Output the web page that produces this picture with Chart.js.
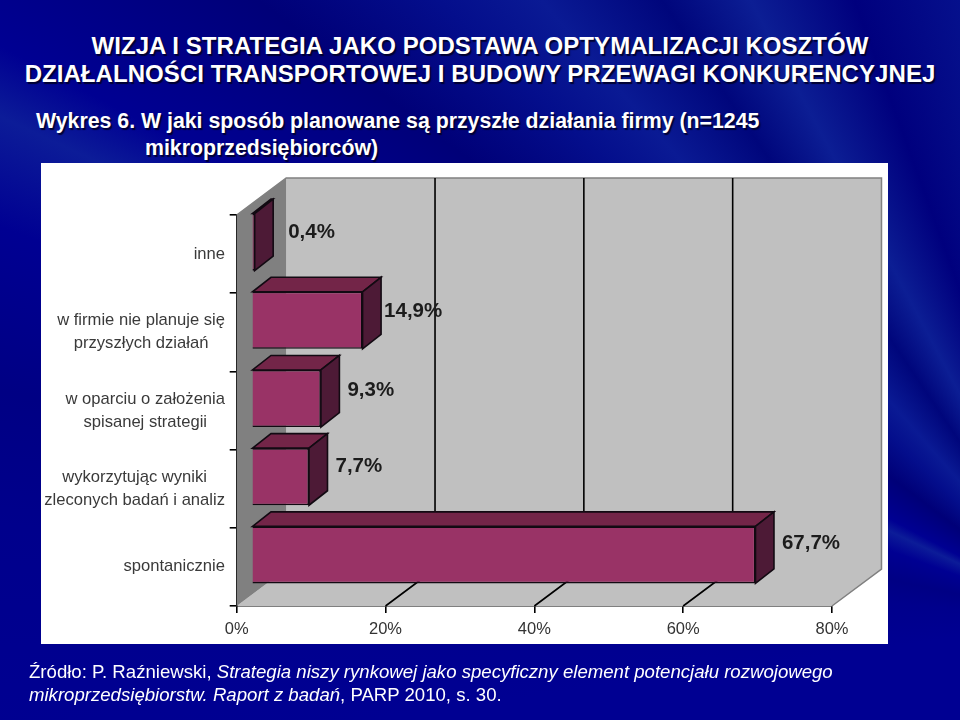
<!DOCTYPE html>
<html lang="pl">
<head>
  <meta charset="UTF-8" />
  <title>Wykres 6</title>
  <script src="https://cdn.jsdelivr.net/npm/chart.js"></script>
  <style>
    html, body { margin: 0; padding: 0; }
    body {
      width: 960px; height: 720px; position: relative; overflow: hidden;
      font-family: "Liberation Sans", Arial, sans-serif; color: #fff;
      background:
        conic-gradient(from 0deg at 1080px 620px,
          #000092 0deg, #000092 262deg, #00008c 275deg, #000084 282deg, #000092 290deg,
          #0c1c98 295deg, #000092 298deg, #000078 307deg, #040e8c 314deg, #0a1a94 319deg,
          #00067c 326deg, #0c1e94 332deg, #00007e 340deg, #06128e 350deg, #000092 360deg);
    }
    .t { position: absolute; white-space: nowrap; text-shadow: 1.5px 1.5px 1px rgba(0,0,40,.9); }
    .tytul { left: 0; width: 960px; text-align: center; font-size: 24px; line-height: 28px; font-weight: bold; top: 32px; letter-spacing: 0.06px; }
    .wykres { left: 36px; top: 108px; font-size: 21.3px; font-weight: bold; line-height: 27px; }
    .wykres span { display: block; margin-left: 109px; }
    .panel { position: absolute; left: 41px; top: 163px; width: 847px; height: 481px; background: #fff; }
    canvas { position: absolute; left: 0; top: 0; filter: blur(0.4px); }
    .zrodlo { left: 29px; top: 660px; font-size: 18.6px; line-height: 23px; text-shadow: none; }
    .zrodlo i { font-style: italic; }
  </style>
</head>
<body>
  <div class="t tytul">WIZJA I STRATEGIA JAKO PODSTAWA OPTYMALIZACJI KOSZTÓW<br>DZIAŁALNOŚCI TRANSPORTOWEJ I BUDOWY PRZEWAGI KONKURENCYJNEJ</div>
  <div class="t wykres">Wykres 6. W jaki sposób planowane są przyszłe działania firmy (n=1245<span>mikroprzedsiębiorców)</span></div>
  <div class="panel"></div>
  <canvas id="grafico" width="960" height="720"></canvas>
  <div class="t zrodlo">Źródło: P. Raźniewski, <i>Strategia niszy rynkowej jako specyficzny element potencjału rozwojowego<br>mikroprzedsiębiorstw. Raport z badań</i>, PARP 2010, s. 30.</div>

  <script>
    const kategorie = [
      ['inne'],
      ['w firmie nie planuje się', 'przyszłych działań'],
      ['w oparciu o założenia', 'spisanej strategii'],
      ['wykorzytując wyniki', 'zleconych badań i analiz'],
      ['spontanicznie']
    ];
    const wartosci = [0.4, 14.9, 9.3, 7.7, 67.7];
    const etykiety = ['0,4%', '14,9%', '9,3%', '7,7%', '67,7%'];

    // przesuniecia perspektywy
    const glebX = 49.5, glebY = -37;
    const slupekX = 15, slupekY = -12;
    const bokX = 18.5, bokY = -14.5;
    // male poprawki polozenia etykiet wartosci
    const korektaX = [15, 3, 8, 8, 8];
    const korektaY = [5, 6, 6, 4, 3];

    function wielokat(ctx, pkt, fill, stroke, lw) {
      ctx.beginPath();
      pkt.forEach((p, i) => i ? ctx.lineTo(p[0], p[1]) : ctx.moveTo(p[0], p[1]));
      ctx.closePath();
      if (fill) { ctx.fillStyle = fill; ctx.fill(); }
      if (stroke) { ctx.strokeStyle = stroke; ctx.lineWidth = lw || 1; ctx.stroke(); }
    }

    const sciany = {
      id: 'sciany',
      beforeDatasetsDraw(chart) {
        const { ctx, chartArea: a, scales: { x } } = chart;
        // podloga, tylna sciana, lewa sciana
        wielokat(ctx, [[a.left, a.bottom], [a.right, a.bottom], [a.right + glebX, a.bottom + glebY], [a.left + glebX, a.bottom + glebY]], '#c0c0c0', null);
        wielokat(ctx, [[a.left + glebX, a.top + glebY], [a.right + glebX, a.top + glebY], [a.right + glebX, a.bottom + glebY], [a.left + glebX, a.bottom + glebY]], '#c0c0c0', null);
        wielokat(ctx, [[a.left, a.top], [a.left + glebX, a.top + glebY], [a.left + glebX, a.bottom + glebY], [a.left, a.bottom]], '#808080', null);
        ctx.strokeStyle = '#808080'; ctx.lineWidth = 1.5;
        ctx.beginPath();
        ctx.moveTo(a.left, a.top); ctx.lineTo(a.left + glebX, a.top + glebY);
        ctx.lineTo(a.right + glebX, a.top + glebY); ctx.lineTo(a.right + glebX, a.bottom + glebY);
        ctx.lineTo(a.right, a.bottom);
        ctx.stroke();
        // siatka na podlodze i tylnej scianie
        ctx.strokeStyle = '#000'; ctx.lineWidth = 1.6;
        x.ticks.forEach(t => {
          if (t.value === 0 || t.value === 80) return;
          const px = x.getPixelForValue(t.value);
          ctx.beginPath();
          ctx.moveTo(px, a.bottom);
          ctx.lineTo(px + glebX, a.bottom + glebY);
          ctx.lineTo(px + glebX, a.top + glebY);
          ctx.stroke();
        });
        // slupki rysowane w srodku glebokosci
        ctx.save();
        ctx.translate(slupekX, slupekY);
      },
      afterDatasetsDraw(chart) {
        const { ctx } = chart;
        const bary = chart.getDatasetMeta(0).data;
        bary.forEach(b => {
          const top = b.y - b.height / 2, bot = b.y + b.height / 2;
          const l = b.base, r = b.x;
          wielokat(ctx, [[l, top], [r, top], [r + bokX, top + bokY], [l + bokX, top + bokY]], '#732548', '#120a12', 1.6);
          wielokat(ctx, [[r, top], [r + bokX, top + bokY], [r + bokX, bot + bokY], [r, bot]], '#4d1a36', '#120a12', 1.6);
        });
        ctx.restore();
        // etykiety wartosci
        ctx.font = 'bold 20.5px "Liberation Sans", Arial';
        ctx.fillStyle = '#1c1c1c';
        ctx.textAlign = 'left';
        ctx.textBaseline = 'middle';
        bary.forEach((b, i) => {
          ctx.fillText(etykiety[i], b.x + slupekX + bokX + korektaX[i], b.y + slupekY + bokY + korektaY[i]);
        });
      }
    };

    // etykiety kategorii wysrodkowane wzgledem siebie jak w oryginale
    const opisyOsi = {
      id: 'opisyOsi',
      afterDraw(chart) {
        const { ctx, scales: { y } } = chart;
        ctx.font = '16.6px "Liberation Sans", Arial';
        ctx.fillStyle = '#3a3a3a';
        ctx.textBaseline = 'middle';
        ctx.textAlign = 'center';
        kategorie.forEach((linie, i) => {
          const py = y.getPixelForTick(i);
          const szer = Math.max(...linie.map(s => ctx.measureText(s).width));
          linie.forEach((s, j) => {
            ctx.fillText(s, 225 - szer / 2, py + (j - (linie.length - 1) / 2) * 23);
          });
        });
      }
    };

    new Chart(document.getElementById('grafico').getContext('2d'), {
      type: 'bar',
      data: {
        labels: kategorie,
        datasets: [{
          data: wartosci,
          backgroundColor: '#993366',
          borderColor: '#120a12',
          borderWidth: 1.6,
          barPercentage: 0.73,
          categoryPercentage: 1,
          clip: false
        }]
      },
      options: {
        indexAxis: 'y',
        responsive: false,
        animation: false,
        layout: { padding: { left: 226.7, right: 128, top: 215, bottom: 74 } },
        plugins: { legend: { display: false }, tooltip: { enabled: false } },
        scales: {
          x: {
            min: 0, max: 80,
            afterFit(s) { s.height = 40; },
            grid: { drawOnChartArea: false, color: '#000', tickLength: 7, lineWidth: 1.6 },
            border: { color: '#000', width: 1.6 },
            ticks: { stepSize: 20, callback: v => v + '%', color: '#333', font: { size: 16.5, family: '"Liberation Sans", Arial' }, padding: 7, maxRotation: 0 }
          },
          y: {
            afterFit(s) { s.width = 10; },
            grid: { offset: true, drawOnChartArea: false, color: '#000', tickLength: 7, lineWidth: 1.6 },
            border: { color: '#000', width: 1.6 },
            ticks: { display: false }
          }
        }
      },
      plugins: [sciany, opisyOsi]
    });
  </script>
</body>
</html>
